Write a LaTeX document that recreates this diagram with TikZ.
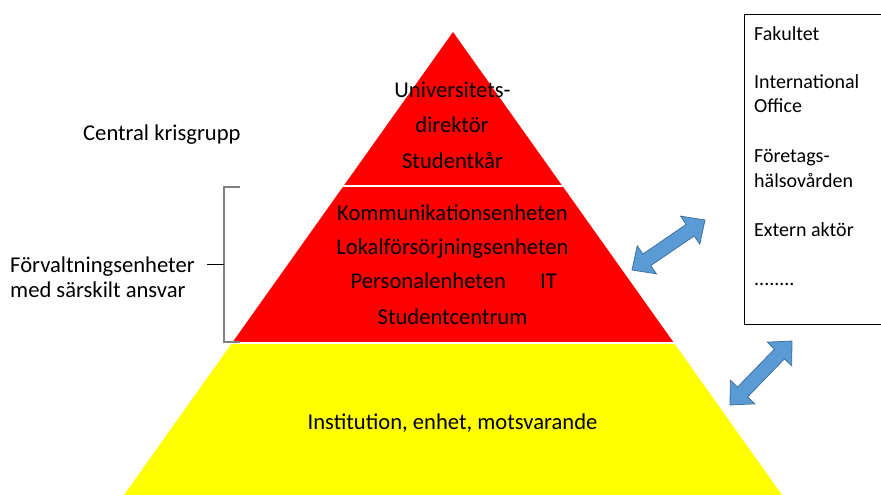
\documentclass[tikz,border=0pt]{standalone}
\usepackage{fontspec}
\setmainfont{Carlito}
\definecolor{pyrred}{HTML}{FF0000}
\definecolor{pyryellow}{HTML}{FFFF00}
\definecolor{arrowfill}{HTML}{5B9BD5}
\definecolor{arrowdraw}{HTML}{41719C}
\definecolor{brackgray}{HTML}{808080}
\tikzset{
  bigtxt/.style={font=\fontsize{22.6}{27}\selectfont, inner sep=0pt, anchor=base},
  bigleft/.style={bigtxt, anchor=base west},
  boxtxt/.style={font=\fontsize{20}{24}\selectfont, inner sep=0pt, anchor=base west},
  sepline/.style={white, line width=1.5pt},
  blockarrow/.style={fill=arrowfill, draw=arrowdraw, line width=0.8pt, line join=miter},
}
\newcommand{\mydblarrow}[4]{%
  \begin{scope}[shift={(#1,#2)}, rotate=#3]
    \pgfmathsetmacro{\halflen}{#4/2}
    \filldraw[blockarrow] (-\halflen,0) -- (-\halflen+18,17) -- (-\halflen+18,7)
      -- (\halflen-18,7) -- (\halflen-18,17) -- (\halflen,0) -- (\halflen-18,-17)
      -- (\halflen-18,-7) -- (-\halflen+18,-7) -- (-\halflen+18,-17) -- cycle;
  \end{scope}}
\begin{document}
\begin{tikzpicture}[x=1pt, y=-1pt]
  \clip (0,0) rectangle (881,495);
  \fill[white] (0,0) rectangle (881,495);
  % pyramid
  \fill[pyrred] (453,32) -- (232,343) -- (674,343) -- cycle;
  \fill[pyryellow] (232,343) -- (124,495) -- (782,495) -- (674,343) -- cycle;
  \draw[sepline] (343,186) -- (563,186);
  \draw[sepline] (231,343) -- (675,343);
  % top texts
  \node[bigtxt] (t1) at (452.5,98) {Universitets-};
  \node[bigtxt] (t2) at (452,132.5) {direktör};
  \node[bigtxt] (t3) at (452.5,168) {Studentkår};
  % middle texts
  \node[bigtxt] (m1) at (452.5,220) {Kommunikationsenheten};
  \node[bigtxt] (m2) at (452.5,254.5) {Lokalförsörjningsenheten};
  \node[bigleft] (m3) at (350.5,288.5) {Personalenheten};
  \node[bigleft] (m3b) at (540,288.5) {IT};
  \node[bigtxt] (m4) at (452.5,324) {Studentcentrum};
  % bottom text
  \node[bigtxt] (b1) at (452.5,429) {Institution, enhet, motsvarande};
  % left labels
  \node[bigleft] (c1) at (83,140) {Central krisgrupp};
  \node[bigleft] (f1) at (10,272) {Förvaltningsenheter};
  \node[bigleft] (f2) at (10,297) {med särskilt ansvar};
  % bracket
  \draw[brackgray, line width=1.5pt] (240,187) -- (224,187) -- (224,342) -- (240,342);
  \coordinate (brmid) at (224,264);
  \coordinate (brtick) at (207,264);
  \draw[black, line width=1pt] (brtick) -- (brmid);
  % external box
  \draw[black, line width=1pt] (890,14.5) -- (744,14.5) -- (744,324) -- (890,324);
  \node[boxtxt] (x1) at (754,41) {Fakultet};
  \node[boxtxt] (x2) at (754,88.5) {International};
  \node[boxtxt] (x3) at (754,112.5) {Office};
  \node[boxtxt] (x4) at (754,162) {Företags-};
  \node[boxtxt] (x5) at (754,187) {hälsovården};
  \node[boxtxt] (x6) at (754,236) {Extern aktör};
  \node[boxtxt] (x7) at (754,285) {........};
  % block arrows
  \mydblarrow{668.5}{245}{34.4}{88.5}
  \mydblarrow{761}{373}{45.9}{89}
\end{tikzpicture}
\end{document}
